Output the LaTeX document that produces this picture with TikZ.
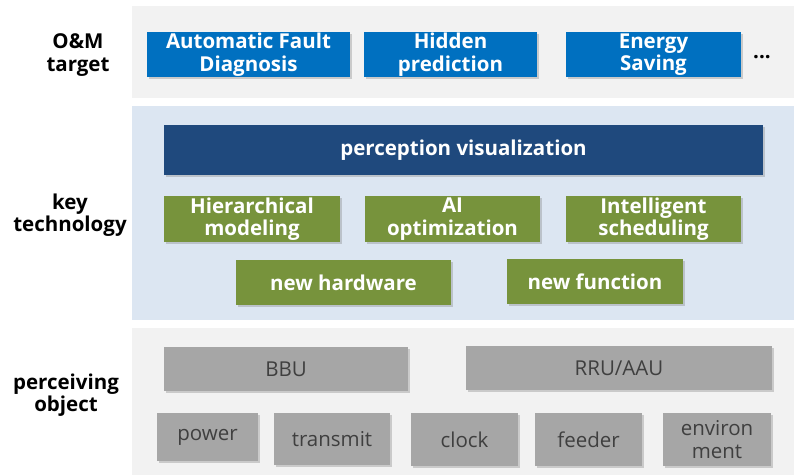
\documentclass[tikz,border=0pt]{standalone}
\usepackage{fontspec}
\setmainfont{Open Sans}
\usepackage{xcolor}
\usepackage{tikz}
\usetikzlibrary{shadows}
\definecolor{OmPanel}{HTML}{F2F2F2}
\definecolor{OmSky}{HTML}{DCE6F2}
\definecolor{OmBlue}{HTML}{0070C0}
\definecolor{OmNavy}{HTML}{1F497D}
\definecolor{OmGreen}{HTML}{77933C}
\definecolor{OmGray}{HTML}{A6A6A6}
\definecolor{OmText}{HTML}{3F3F3F}

\begin{document}
\begin{tikzpicture}[
  x=1pt,
  y=-1pt,
  every node/.style={font=\fontsize{20.5}{22.5}\selectfont, align=center, inner sep=0pt},
  panel/.style={draw=none},
  box/.style={draw=none, drop shadow={shadow xshift=1.5pt, shadow yshift=-1.5pt, opacity=0.35}},
  goal/.style={box, fill=OmBlue, text=white, font=\fontsize{20.5}{22.5}\selectfont\bfseries},
  tech/.style={box, fill=OmGreen, text=white, font=\fontsize{20.5}{22.5}\selectfont\bfseries},
  obj/.style={box, fill=OmGray, text=OmText},
  layer/.style={font=\fontsize{20.5}{22.5}\selectfont\bfseries, text=black}
]
\useasboundingbox[fill=white] (0,0) rectangle (796,475);

% layers
\fill[panel, OmPanel] (132,6) rectangle (794,98);
\fill[panel, OmSky] (132,106) rectangle (794,320);
\fill[panel, OmPanel] (132,328) rectangle (794,475);

\node[layer] (lblOM) at (78,55) {O\&M\\target};
\node[layer] (lblKey) at (70,215) {key\\technology};
\node[layer] (lblObj) at (66,395) {perceiving\\object};

% O&M target
\node[goal, minimum width=203, minimum height=45] (fault) at (248.5,54.5) {Automatic Fault\\Diagnosis};
\node[goal, minimum width=173, minimum height=45] (hidden) at (450.5,54.5) {Hidden\\prediction};
\node[goal, minimum width=175, minimum height=45] (energy) at (653.5,54.5) {Energy\\Saving};
\node[layer, anchor=base] (more) at (762,58) {...};

% key technology
\node[box, fill=OmNavy, text=white, font=\fontsize{20.5}{22.5}\selectfont\bfseries,
  minimum width=599, minimum height=50] (percep) at (463.5,150) {perception visualization};
\node[tech, minimum width=176, minimum height=46] (hier) at (252,219) {Hierarchical\\modeling};
\node[tech, minimum width=175, minimum height=46] (aiopt) at (452.5,219) {AI\\optimization};
\node[tech, minimum width=175, minimum height=46] (sched) at (653.5,219) {Intelligent\\scheduling};
\node[tech, minimum width=215, minimum height=45] (hw) at (343.5,282.5) {new hardware};
\node[tech, minimum width=176, minimum height=45] (func) at (595,281.5) {new function};

% perceiving object
\node[obj, minimum width=244, minimum height=44] (bbu) at (286,369) {BBU};
\node[obj, minimum width=306, minimum height=44] (rru) at (619,368) {RRU/AAU};
\node[obj, minimum width=101, minimum height=48] (power) at (207.5,437) {power};
\node[obj, minimum width=116, minimum height=52] (trans) at (332,439) {transmit};
\node[obj, minimum width=107, minimum height=53] (clock) at (464.5,439.5) {clock};
\node[obj, minimum width=107, minimum height=53] (feeder) at (588.5,439.5) {feeder};
\node[obj, minimum width=108, minimum height=53] (env) at (717,439.5) {environ\\ment};
\end{tikzpicture}
\end{document}
